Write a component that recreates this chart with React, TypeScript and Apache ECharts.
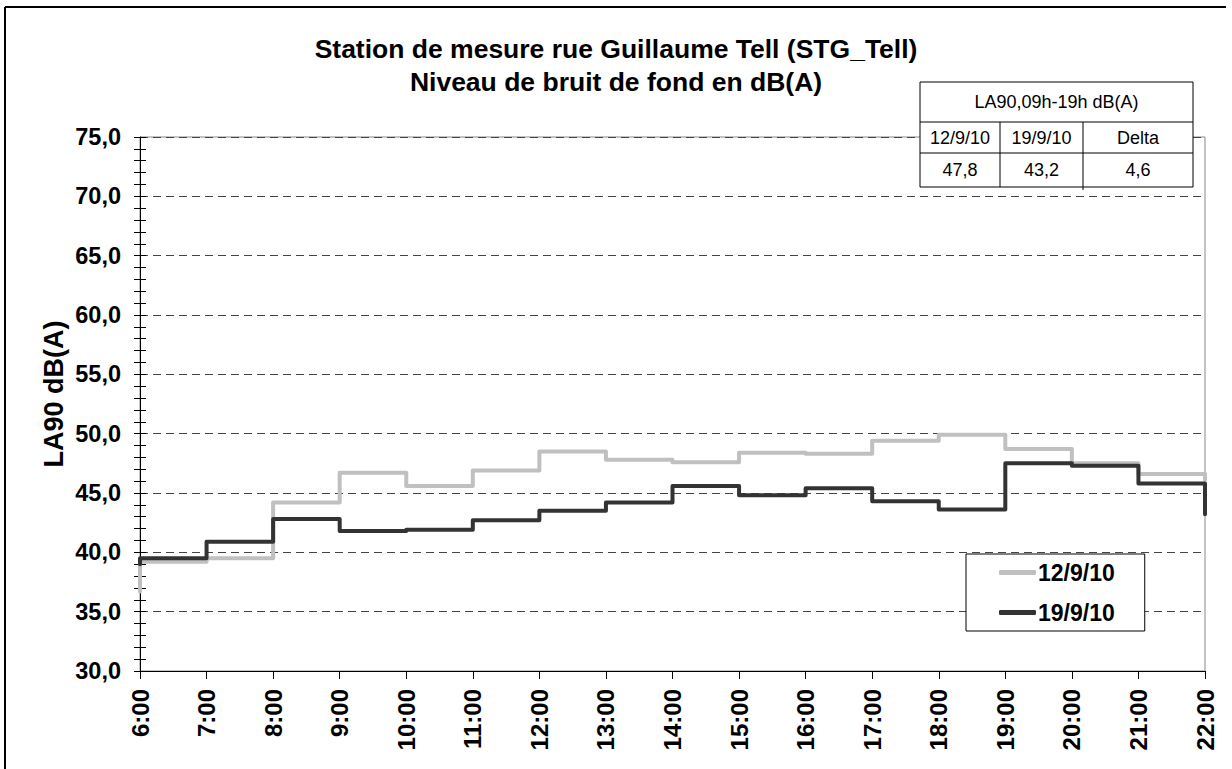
import React, { useEffect, useRef } from "react";
import * as echarts from "echarts";

const hours = [6, 7, 8, 9, 10, 11, 12, 13, 14, 15, 16, 17, 18, 19, 20, 21, 22];
const seriesNames = ["12/9/10", "19/9/10"];
// hourly LA90 values, each held from hour h to h+1 (6:00 .. 21:00)
const la90_120910 = [39.2, 39.5, 44.2, 46.7, 45.6, 46.9, 48.5, 47.8, 47.6, 48.4, 48.3, 49.4, 49.9, 48.7, 47.5, 46.6];
const la90_190910 = [39.5, 40.9, 42.8, 41.8, 41.9, 42.7, 43.5, 44.2, 45.6, 44.8, 45.4, 44.3, 43.6, 47.5, 47.3, 45.8];
const startValues = [36.7, 39.0];
const endValues = [46.1, 43.2];
const yTicks = [30, 35, 40, 45, 50, 55, 60, 65, 70, 75];

const titleLines = ["Station de mesure rue Guillaume Tell (STG_Tell)", "Niveau de bruit de fond en dB(A)"];
const yAxisName = "LA90 dB(A)";
const tableHeader = "LA90,09h-19h dB(A)";
const tableCols = ["12/9/10", "19/9/10", "Delta"];
const tableVals = ["47,8", "43,2", "4,6"];

const FONT = "'Liberation Sans', Arial, sans-serif";

function buildSteps(vals: number[], start: number, end: number): number[][] {
  const pts: number[][] = [[hours[0], start]];
  vals.forEach((v, i) => pts.push([hours[i], v]));
  pts.push([hours[hours.length - 1], end]);
  return pts;
}

export default function App() {
  const ref = useRef<HTMLDivElement>(null);
  useEffect(() => {
    if (!ref.current) return;
    const chart = echarts.init(ref.current, null, { renderer: "svg" });

    // table geometry
    const tx0 = 920, tx1 = 1193, ty0 = 82, ty1 = 122, ty2 = 153, ty3 = 187;
    const cx = [920, 1000, 1083, 1193];
    const tableEls: any[] = [
      { type: "rect", shape: { x: tx0, y: ty0, width: tx1 - tx0, height: ty3 - ty0 }, style: { fill: "#fff", stroke: "#000", lineWidth: 1 }, z: 100 },
      { type: "line", shape: { x1: tx0, y1: ty1, x2: tx1, y2: ty1 }, style: { stroke: "#000", lineWidth: 1 }, z: 101 },
      { type: "line", shape: { x1: tx0, y1: ty2, x2: tx1, y2: ty2 }, style: { stroke: "#000", lineWidth: 1 }, z: 101 },
      { type: "line", shape: { x1: cx[1], y1: ty1, x2: cx[1], y2: ty3 }, style: { stroke: "#000", lineWidth: 1 }, z: 101 },
      { type: "line", shape: { x1: cx[2], y1: ty1, x2: cx[2], y2: ty3 + 3 }, style: { stroke: "#000", lineWidth: 1 }, z: 101 },
      { type: "text", x: (tx0 + tx1) / 2, y: (ty0 + ty1) / 2, style: { text: tableHeader, font: `18px ${FONT}`, fill: "#000", align: "center", verticalAlign: "middle" }, z: 102 },
    ];
    tableCols.forEach((t, i) => {
      tableEls.push({ type: "text", x: (cx[i] + cx[i + 1]) / 2, y: (ty1 + ty2) / 2, style: { text: t, font: `18px ${FONT}`, fill: "#000", align: "center", verticalAlign: "middle" }, z: 102 });
    });
    tableVals.forEach((t, i) => {
      tableEls.push({ type: "text", x: (cx[i] + cx[i + 1]) / 2, y: (ty2 + ty3) / 2, style: { text: t, font: `18px ${FONT}`, fill: "#000", align: "center", verticalAlign: "middle" }, z: 102 });
    });

    const yFmt = (v: number) => v.toFixed(1).replace(".", ",");

    chart.setOption({
      animation: false,
      backgroundColor: "#fff",
      title: {
        text: titleLines.join("\n"),
        left: "center",
        top: 32,
        padding: 0,
        textStyle: { fontFamily: FONT, fontWeight: "bold", fontSize: 26.5, lineHeight: 33, color: "#000" },
      },
      grid: { left: 140, right: 27, top: 137, bottom: 98, show: true, borderColor: "#888", borderWidth: 1, backgroundColor: "transparent" },
      legend: {
        data: seriesNames,
        orient: "vertical",
        left: 966,
        top: 554,
        padding: [7, 30, 7, 33],
        itemGap: 17,
        itemWidth: 37,
        itemHeight: 5,
        icon: "roundRect",
        backgroundColor: "#fff",
        borderColor: "#000",
        borderWidth: 1,
        borderRadius: 0,
        textStyle: { fontFamily: FONT, fontWeight: "bold", fontSize: 23, color: "#000", padding: [0, 0, 0, -3] },
      },
      xAxis: {
        type: "value",
        min: 6,
        max: 22,
        interval: 1,
        axisLine: { lineStyle: { color: "#000", width: 1 } },
        axisTick: { show: true, length: 8, lineStyle: { color: "#000" } },
        splitLine: { show: false },
        axisLabel: {
          rotate: 90,
          margin: 18,
          formatter: (v: number) => `${v}:00`,
          fontFamily: FONT,
          fontWeight: "bold",
          fontSize: 24,
          color: "#000",
          showMinLabel: true,
          showMaxLabel: true,
        },
      },
      yAxis: [
        {
          type: "value",
          min: yTicks[0],
          max: yTicks[yTicks.length - 1],
          interval: 5,
          axisLine: { show: true, lineStyle: { color: "#000", width: 1 } },
          axisTick: { show: true, length: 6, lineStyle: { color: "#000" } },
          minorTick: { show: true, splitNumber: 5, length: 6, lineStyle: { color: "#000" } },
          splitLine: { show: true, lineStyle: { color: "#444", type: [8, 5], width: 1 } },
          axisLabel: { margin: 19, formatter: yFmt, fontFamily: FONT, fontWeight: "bold", fontSize: 23.5, color: "#000" },
        },
        {
          type: "value",
          min: yTicks[0],
          max: yTicks[yTicks.length - 1],
          interval: 5,
          position: "left",
          axisLine: { show: false },
          axisTick: { show: true, inside: true, length: 6, lineStyle: { color: "#000" } },
          minorTick: { show: true, splitNumber: 5, length: 6, lineStyle: { color: "#000" } },
          splitLine: { show: false },
          axisLabel: { show: false },
        },
      ],
      series: [
        {
          name: seriesNames[0],
          type: "line",
          step: "end",
          yAxisIndex: 0,
          showSymbol: false,
          symbol: "none",
          data: buildSteps(la90_120910, startValues[0], endValues[0]),
          lineStyle: { color: "#c0c0c0", width: 4, join: "round", cap: "round" },
          itemStyle: { color: "#c0c0c0" },
          z: 3,
        },
        {
          name: seriesNames[1],
          type: "line",
          step: "end",
          yAxisIndex: 0,
          showSymbol: false,
          symbol: "none",
          data: buildSteps(la90_190910, startValues[1], endValues[1]),
          lineStyle: { color: "#333333", width: 4, join: "round", cap: "round" },
          itemStyle: { color: "#333333" },
          z: 4,
        },
      ],
      graphic: [
        { type: "line", shape: { x1: 5, y1: 7, x2: 1226, y2: 7 }, style: { stroke: "#000", lineWidth: 2 }, z: 100 },
        { type: "line", shape: { x1: 5, y1: 7, x2: 5, y2: 775 }, style: { stroke: "#000", lineWidth: 2 }, z: 100 },
        {
          type: "text",
          x: 54,
          y: 394,
          rotation: Math.PI / 2,
          style: { text: yAxisName, font: `bold 27px ${FONT}`, fill: "#000", align: "center", verticalAlign: "middle" },
          z: 100,
        },
        ...tableEls,
      ],
    });
    return () => chart.dispose();
  }, []);
  return <div ref={ref} style={{ position: "fixed", left: 0, top: 0, width: 1232, height: 769 }} />;
}
